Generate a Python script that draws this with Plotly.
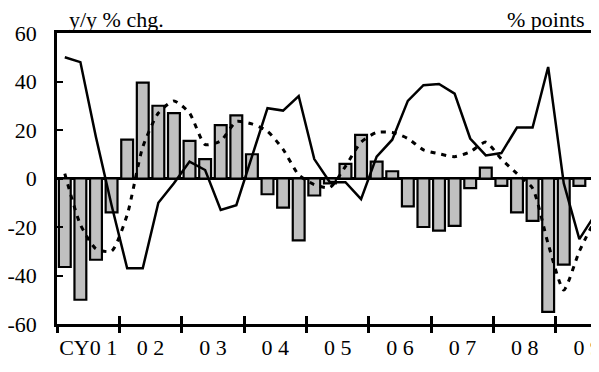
import plotly.graph_objects as go

# Quarterly data, 2001Q1 onward
year_labels = ["CY0 1", "0 2", "0 3", "0 4", "0 5", "0 6", "0 7", "0 8", "0 9"]
y_tick_vals = [-60, -40, -20, 0, 20, 40, 60]
y_tick_text = ["-60", "-40", "-20", "0", "20", "40", "60"]

bars_pts = [-36.5, -50, -33.5, -14,
            16, 39.5, 30, 27,
            15.5, 8, 22, 26,
            10, -6.5, -12, -25.5,
            -7, -2, 6, 18,
            7, 3, -11.5, -20,
            -21.5, -19.5, -4, 4.5,
            -3, -14, -17.5, -55,
            -35.5, -3]

solid_yy = [50, 48, 17, -11,
            -37, -37, -10, -2,
            7, 3.5, -13, -11,
            9, 29, 28, 34,
            8, -1.5, -1.5, -8.5,
            9, 16, 32, 38.5,
            39, 35, 16.5, 9.5,
            10.5, 21, 21, 46,
            -2, -25, -15]

dotted_yy = [2, -19, -29, -30,
             -15, 13, 27, 32,
             27, 14, 15.5, 23.5,
             22.5, 19.5, 12, 1.5,
             -2.5, -3.7, 5, 15,
             19, 19, 16.5, 11.8,
             10.2, 9, 11, 15,
             8, 2, -4, -27,
             -46, -30, -17]

xb = list(range(len(bars_pts)))
xs = list(range(len(solid_yy)))
xd = list(range(len(dotted_yy)))
year_centers = [1.5 + 4 * k for k in range(len(year_labels))]
year_bounds = [-0.5 + 4 * k for k in range(len(year_labels) + 1)]

XR = [-0.5, 34.26]
FONT = "Liberation Serif, Times New Roman, serif"
FS = 22

fig = go.Figure()
fig.add_trace(go.Bar(x=xb, y=bars_pts, width=0.76,
                     marker=dict(color="#c0c0c0", line=dict(color="black", width=2.2)),
                     showlegend=False))
fig.add_trace(go.Scatter(x=xd, y=dotted_yy, mode="lines",
                         line=dict(color="black", width=3, dash="5px,6px", shape="spline", smoothing=0.6),
                         showlegend=False))
fig.add_trace(go.Scatter(x=xs, y=solid_yy, mode="lines",
                         line=dict(color="black", width=2.5),
                         showlegend=False))
# invisible helper traces so overlay axes render
fig.add_trace(go.Scatter(x=[0], y=[0], xaxis="x2", yaxis="y2", mode="markers",
                         marker=dict(opacity=0), showlegend=False, hoverinfo="skip"))
fig.add_trace(go.Scatter(x=[0], y=[0], xaxis="x3", yaxis="y", mode="markers",
                         marker=dict(opacity=0), showlegend=False, hoverinfo="skip"))

# page body has an 8px default margin: figure is sized to fill the rest of the window
fig.update_layout(
    width=591, height=364,
    margin=dict(l=49, r=0, t=25, b=48, autoexpand=False),
    paper_bgcolor="white", plot_bgcolor="white",
    font=dict(family=FONT, size=FS, color="black"),
    showlegend=False,
    bargap=0.24,
    xaxis=dict(range=XR, tickmode="array", tickvals=year_centers, ticktext=year_labels,
               ticks="", showgrid=False, zeroline=False,
               showline=True, linecolor="black", linewidth=3, mirror=True,
               ticklabeloverflow="allow", ticklabelstandoff=2, automargin=False),
    xaxis2=dict(range=XR, overlaying="x", side="bottom", anchor="y",
                tickmode="array", tickvals=year_bounds, ticks="outside", ticklen=8,
                tickwidth=2.5, tickcolor="black", showticklabels=False,
                showgrid=False, zeroline=False, showline=False),
    xaxis3=dict(range=XR, overlaying="x", side="bottom", anchor="y",
                tickmode="array", tickvals=year_bounds, ticks="inside", ticklen=8,
                tickwidth=2.5, tickcolor="black", showticklabels=False,
                showgrid=False, zeroline=False, showline=False),
    yaxis=dict(range=[-60, 60], tickmode="array", tickvals=y_tick_vals, ticktext=y_tick_text,
               ticks="inside", ticklen=6, tickwidth=2, tickcolor="black",
               showline=True, linecolor="black", linewidth=2.5,
               showgrid=False, zeroline=True, zerolinecolor="black", zerolinewidth=2.5,
               ticklabelstandoff=13, automargin=False),
    yaxis2=dict(range=[-4, 4], overlaying="y", side="right", anchor="x",
                tickmode="linear", tick0=0, dtick=1,
                ticks="inside", ticklen=6, tickwidth=2, tickcolor="black",
                showticklabels=False, showline=False, showgrid=False, zeroline=False),
    annotations=[
        dict(text="y/y % chg.", xref="paper", yref="paper", x=0.02, y=1.045,
             xanchor="left", yanchor="middle", showarrow=False, borderpad=0,
             font=dict(family=FONT, size=FS, color="black")),
        dict(text="% points", xref="paper", yref="paper", x=0.976, y=1.045,
             xanchor="right", yanchor="middle", showarrow=False, borderpad=0,
             font=dict(family=FONT, size=FS, color="black")),
    ],
)

fig.write_html("out.html")
